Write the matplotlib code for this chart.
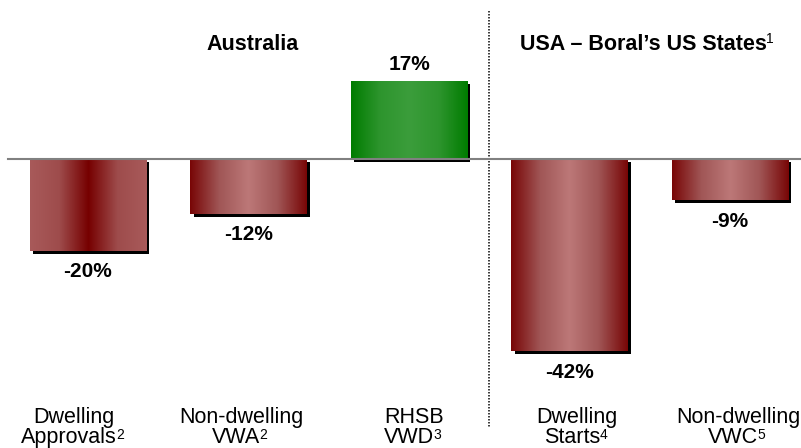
import numpy as np
import matplotlib
matplotlib.use('Agg')
import matplotlib.pyplot as plt
import matplotlib.patheffects as pe
from matplotlib.colors import LinearSegmentedColormap

plt.rcParams['font.family'] = ['Liberation Sans', 'DejaVu Sans']

# data
line1 = ['Dwelling', 'Non-dwelling', 'RHSB', 'Dwelling', 'Non-dwelling']
line2 = ['Approvals', 'VWA', 'VWD', 'Starts', 'VWC']
notes = ['2', '2', '3', '4', '5']
values = [-20, -12, 17, -42, -9]
styles = ['inv', 'red', 'green', 'red', 'red']

# gradients (left -> right across each bar)
cmaps = {
    'red': LinearSegmentedColormap.from_list('red', ['#780606', '#a05656', '#bc7878', '#a05656', '#780606']),
    'inv': LinearSegmentedColormap.from_list('inv', ['#a85a5a', '#9e4c4c', '#760000', '#9e4c4c', '#a85a5a']),
    'green': LinearSegmentedColormap.from_list('green', ['#007c00', '#2e952e', '#3b9d3b', '#2e952e', '#007c00']),
}

fig = plt.figure(figsize=(8.01, 4.48), dpi=100)
ax = fig.add_axes([0, 0, 1, 1])

# pixel layout: bar centres at 88 + 160.5*i, zero line at y=159, ~4.58 px per %
px_x, px_y = 160.5, 4.58
x = np.arange(len(values))

bars = ax.bar(x, values, width=0.723, color='#7a0a0a', zorder=2,
              path_effects=[pe.withSimplePatchShadow(offset=(2.2, -2.2), shadow_rgbFace='black', alpha=1)])

grad = np.linspace(0, 1, 256).reshape(1, -1)
for bar, st in zip(bars, styles):
    x0, y0 = bar.get_x(), bar.get_y()
    w, h = bar.get_width(), bar.get_height()
    im = ax.imshow(grad, cmap=cmaps[st], extent=[x0, x0 + w, min(y0, y0 + h), max(y0, y0 + h)],
                   aspect='auto', zorder=3, interpolation='bilinear')
    im.set_clip_path(bar)

ax.set_xlim(-88 / px_x, (801 - 88) / px_x)
ax.set_ylim(-(448 - 159) / px_y, 159 / px_y)
ax.axis('off')

# zero line
ax.axhline(0, xmin=8 / 801, color='#808080', lw=1.5, zorder=5)

# dotted divider
ax.plot([2.5, 2.5], [148 / px_y, -(428 - 159) / px_y], color='#404040', lw=1.44,
        ls=(0, (0.75, 0.75)), zorder=4)

# value labels
for xi, v in zip(x, values):
    off = 17 if v > 0 else -21
    ax.annotate(f'{v}%', xy=(xi, v), xytext=(0, off), textcoords='offset pixels',
                ha='center', va='center', fontsize=15, fontweight='bold', zorder=6)

# group headers
ax.text(253 / 801, 1 - 45 / 448, 'Australia', transform=ax.transAxes, ha='center', va='center',
        fontsize=15.5, fontweight='bold')
usa = ax.text(643 / 801, 1 - 45 / 448, 'USA \u2013 Boral\u2019s US States', transform=ax.transAxes,
              ha='center', va='center', fontsize=15.5, fontweight='bold')
ax.annotate('1', xy=(1, 0.95), xycoords=usa, xytext=(0, 4), textcoords='offset pixels',
            ha='left', va='top', fontsize=10)

# category labels
label_x = [74, 241, 414, 577, 738]
for lx, a, b, n in zip(label_x, line1, line2, notes):
    ax.text(lx / 801, 1 - 423 / 448, a, transform=ax.transAxes, ha='center', va='baseline',
            fontsize=15.5)
    t = ax.text(lx / 801 - 0.006, 1 - 443 / 448, b, transform=ax.transAxes, ha='center',
                va='baseline', fontsize=15.5)
    ax.annotate(n, xy=(1, 0.95), xycoords=t, xytext=(-1, 0.5), textcoords='offset pixels',
                ha='left', va='top', fontsize=10)

fig.savefig('out.png', dpi=100)
